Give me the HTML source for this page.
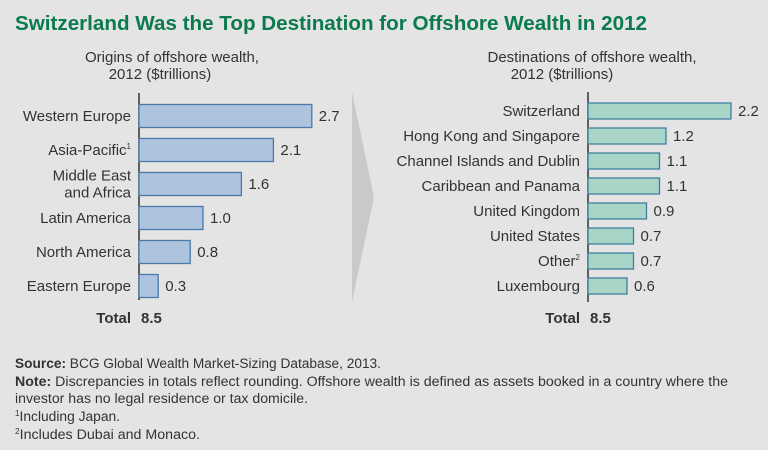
<!DOCTYPE html>
<html><head><meta charset="utf-8"><style>
html,body{margin:0;padding:0;background:#e4e4e4}
svg{display:block;font-family:"Liberation Sans",sans-serif}
</style></head><body>
<svg id="chart" width="768" height="450" viewBox="0 0 768 450">
<rect x="0" y="0" width="768" height="450" fill="#e4e4e4"/>
<text x="15" y="30" font-size="20" font-weight="bold" fill="#0b7a4e" textLength="632" lengthAdjust="spacingAndGlyphs">Switzerland Was the Top Destination for Offshore Wealth in 2012</text>
<text x="172" y="62" font-size="15" fill="#333" text-anchor="middle">Origins of offshore wealth,</text>
<text x="160" y="79" font-size="15" fill="#333" text-anchor="middle">2012 ($trillions)</text>
<text x="592" y="62" font-size="15" fill="#333" text-anchor="middle">Destinations of offshore wealth,</text>
<text x="562" y="79" font-size="15" fill="#333" text-anchor="middle">2012 ($trillions)</text>
<polygon points="352,92 374,197 352,302" fill="#c9c9c9"/>
<g id="left"></g>
<g id="right"></g>
<g font-size="13.5" fill="#333">
<text x="15" y="368" textLength="366" lengthAdjust="spacingAndGlyphs"><tspan font-weight="bold">Source:</tspan> BCG Global Wealth Market-Sizing Database, 2013.</text>
<text x="15" y="386" textLength="713" lengthAdjust="spacingAndGlyphs"><tspan font-weight="bold">Note:</tspan> Discrepancies in totals reflect rounding. Offshore wealth is defined as assets booked in a country where the</text>
<text x="15" y="403" textLength="293" lengthAdjust="spacingAndGlyphs">investor has no legal residence or tax domicile.</text>
<text x="15" y="421" textLength="105" lengthAdjust="spacingAndGlyphs"><tspan font-size="8" dy="-5">1</tspan><tspan dy="5">Including Japan.</tspan></text>
<text x="15" y="439" textLength="185" lengthAdjust="spacingAndGlyphs"><tspan font-size="8" dy="-5">2</tspan><tspan dy="5">Includes Dubai and Monaco.</tspan></text>
</g>
</svg>
<script>
const originCats=["Western Europe","Asia-Pacific|1","Middle East\nand Africa","Latin America","North America","Eastern Europe"];
const originVals=[2.7,2.1,1.6,1.0,0.8,0.3];
const originTotal="8.5";
const destCats=["Switzerland","Hong Kong and Singapore","Channel Islands and Dublin","Caribbean and Panama","United Kingdom","United States","Other|2","Luxembourg"];
const destVals=[2.2,1.2,1.1,1.1,0.9,0.7,0.7,0.6];
const destTotal="8.5";
const NS="http://www.w3.org/2000/svg";
function mk(tag,attrs,parent){const e=document.createElementNS(NS,tag);for(const k in attrs)e.setAttribute(k,attrs[k]);parent.appendChild(e);return e;}
function panel(g,cats,vals,total,o){
  const x=v=>o.x0+v*o.scale;
  const y=i=>o.yc0+i*o.step;
  const ax=mk('line',{x1:o.x0,x2:o.x0,y1:o.ya,y2:o.yb,stroke:'#333','stroke-width':1.5},g);
  
  
  cats.forEach((c,i)=>{
    const cy=y(i);
    const r=mk('rect',{x:o.x0,y:cy-o.h/2,width:x(vals[i])-o.x0,height:o.h,fill:o.fill,stroke:o.stroke,'stroke-width':1.3},g);
    
    
    const v=mk('text',{x:x(vals[i])+7,y:cy+5,'font-size':15,fill:'#333'},g);
    v.textContent=vals[i].toFixed(1);
    
    
    const lines=c.split('\n');
    lines.forEach((ln,j)=>{
      const t=mk('text',{x:o.x0-8,y:cy+5+(j-(lines.length-1)/2)*17,'font-size':15,fill:'#333','text-anchor':'end'},g);
      const parts=ln.split('|');
      t.appendChild(document.createTextNode(parts[0]));
      if(parts[1]){const s=mk('tspan',{'font-size':8,dy:-6},t);s.textContent=parts[1];const s2=mk('tspan',{dy:6},t);s2.textContent='';}
      
      
    });
  });
  const tl=mk('text',{x:o.x0-8,y:o.ty,'font-size':15,'font-weight':'bold',fill:'#333','text-anchor':'end'},g);
  tl.textContent='Total';
  
  
  const tv=mk('text',{x:o.x0+2,y:o.ty,'font-size':15,'font-weight':'bold',fill:'#333'},g);
  tv.textContent=total;
  
  
}
panel(document.getElementById('left'),originCats,originVals,originTotal,{name:'origins',x0:139,scale:64,yc0:116,step:34,h:23,ya:93,yb:300,ty:323,fill:'#aec3de',stroke:'#4a78a8'});
panel(document.getElementById('right'),destCats,destVals,destTotal,{name:'destinations',x0:588,scale:65,yc0:111,step:25,h:16,ya:92,yb:302,ty:323,fill:'#a9d5c8',stroke:'#3f7fa0'});
</script>
</body></html>
